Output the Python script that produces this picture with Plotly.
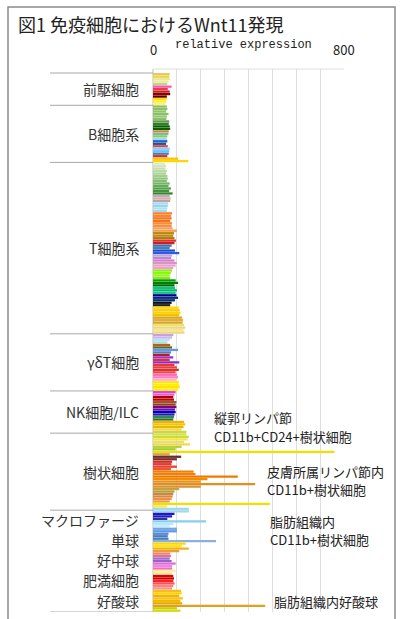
import plotly.graph_objects as go

W, H = 401, 619

# ---------------- data ----------------
progenitor_vals = [70, 68, 72, 65, 60, 78, 62, 70, 72, 58, 58, 55, 52]
progenitor_cols = ["#e6c84a", "#e8d45a", "#f0e68c", "#f2ea9a", "#b5d98a", "#ff55bb", "#e64040",
                   "#cc2020", "#8b0000", "#5c0000", "#ffe000", "#ffee33", "#fff176"]

bcell_vals = [58, 60, 55, 65, 58, 56, 68, 66, 70, 72, 66, 65, 60, 58, 60, 55, 62, 70, 68, 66, 60, 105, 148]
bcell_cols = ["#8cc068", "#8cc068", "#90c46c", "#8cc068", "#92c870", "#8cc068", "#5e9e4a", "#3c7a32",
              "#006400", "#006400", "#d98050", "#7cc080", "#88c878", "#a0d8f0", "#2060c0", "#1e4fa0",
              "#e04848", "#87cefa", "#6ec0f0", "#4080c0", "#d03030", "#ffc000", "#ffd700"]

tcell_vals = [50, 55, 52, 58, 55, 60, 62, 58, 70, 65, 75, 68, 82,
              70, 74, 72,
              64, 62, 60, 58,
              80, 76, 78, 72, 80, 78,
              82, 100, 88, 85, 90,
              96, 90,
              78, 70, 92, 110,
              80, 76, 90, 100, 95, 85,
              80, 75, 70, 72,
              95, 105, 90,
              92, 100, 95,
              98, 105, 92,
              78, 72,
              108, 112, 115, 110,
              122, 126, 124,
              130, 135, 128, 132]
tcell_cols = ["#dcecc8", "#d0e6bc", "#c4e0b0", "#b8daa4", "#acd498", "#a0ce8c", "#92c680", "#84be72",
              "#74b464", "#64aa56", "#549e4a", "#42923e", "#2e8634",
              "#c8a8a8", "#d0b0b0", "#c0a0a0",
              "#a8dcf0", "#98d4ec", "#b0e0f4", "#a0d8f0",
              "#ff7f27", "#ff8030", "#f47a20", "#f07018", "#ff8c32", "#f58a3a",
              "#f4a460", "#f0a050", "#b8860b", "#c08a10", "#b07c08",
              "#e03030", "#cc2020",
              "#3a6eb0", "#4682b4", "#1f4fd0", "#2a5ee0",
              "#c9a0dc", "#b48cd0", "#d080c8", "#e090c8", "#e8a0d0", "#f0a0c0",
              "#90ee20", "#7fff00", "#a0f020", "#88e818",
              "#00a000", "#008000", "#006400",
              "#00cc77", "#00b870", "#20c080",
              "#000090", "#0a2a80", "#003080",
              "#101010", "#202020",
              "#ffd700", "#ffcc00", "#ffd000", "#f0c000",
              "#daa520", "#e0b030", "#d8a428",
              "#f0e070", "#e8d880", "#f5e68c", "#ecd878"]

gd_vals = [85, 80, 70, 60, 72, 80, 105, 75, 70, 85, 70, 110, 90, 100, 108, 95, 100, 105, 98, 108, 110, 112, 105]
gd_cols = ["#c8a0e0", "#d0b0f0", "#b0e8f8", "#a0e0f0", "#c06000", "#556b2f", "#6495ed", "#5080c0",
           "#b02020", "#9932cc", "#e03030", "#8a2be2", "#e53935", "#e84040", "#d83030", "#f04848",
           "#ff69b4", "#ff80c0", "#ffb0d0", "#ffe600", "#ffee00", "#ffe000", "#fff000"]

nk_vals = [95, 90, 85, 88, 98, 95, 98, 92, 95, 90, 88, 85, 130, 135, 128, 120, 140]
nk_cols = ["#e040e0", "#e060d0", "#b00000", "#c00000", "#a0522d", "#8b4513", "#800080", "#6a0dad",
           "#0000cd", "#2020a0", "#2e8b57", "#307040", "#f0b400", "#f4c400", "#e8b800", "#ffd24a", "#c8dc3c"]

dc_vals = [140, 150, 145, 130, 155, 120, 95, 760, 70, 118, 100, 80, 78, 100, 75, 170, 178, 355,
           228, 200, 428, 200, 110, 90, 85, 82, 78, 70, 490, 60, 150]
dc_cols = ["#d4e04a", "#c8dc3c", "#f5e642", "#e8e070", "#f0d850", "#b8d040", "#9acd32", "#f0e000",
           "#e0a040", "#6b2c2c", "#7a3030", "#d03020", "#e53935", "#ee4030", "#f05030", "#f08000",
           "#f08010", "#f07800", "#f28c00", "#e89020", "#e09020", "#d89030", "#c8a040", "#b0a030",
           "#cd853f", "#d2884a", "#f09040", "#e8a050", "#f0e000", "#ffe840", "#a0d8f0"]

mac_vals = [150, 90, 80, 60, 222, 85, 70, 100]
mac_cols = ["#a0d8f0", "#1a1acd", "#2020c0", "#3030a0", "#87ceeb", "#b0e8ff", "#c0ecff", "#70a8e0"]

mono_vals = [100, 65, 62, 65, 264, 137, 120, 150]
mono_cols = ["#6495ed", "#5a8ad0", "#4682b4", "#4a7cc0", "#8ab0e0", "#ffd700", "#ffe600", "#f0b020"]

neut_vals = [110, 72, 75, 70, 78, 95, 80, 80]
neut_cols = ["#e8a030", "#f08080", "#e87080", "#9370db", "#a060c0", "#da70d6", "#ee82ee", "#ff69b4"]

mast_vals = [95, 80, 85, 88, 85, 90, 85, 80]
mast_cols = ["#f8f0a0", "#f0e68c", "#e00000", "#cc0000", "#ff2020", "#ff5050", "#ff8080", "#fa9090"]

eos_vals = [118, 120, 110, 125, 115, 122, 470, 100, 115]
eos_cols = ["#f0c020", "#ffd000", "#f0b400", "#ffc010", "#f5b800", "#e8a800", "#e0a020", "#c8d400", "#d4dc10"]

blocks = [
    [("前駆細胞", progenitor_vals, progenitor_cols)],
    [("B細胞系", bcell_vals, bcell_cols)],
    [("T細胞系", tcell_vals, tcell_cols)],
    [("γδT細胞", gd_vals, gd_cols)],
    [("NK細胞/ILC", nk_vals, nk_cols)],
    [("樹状細胞", dc_vals, dc_cols)],
    [("マクロファージ", mac_vals, mac_cols), ("単球", mono_vals, mono_cols),
     ("好中球", neut_vals, neut_cols), ("肥満細胞", mast_vals, mast_cols),
     ("好酸球", eos_vals, eos_cols)],
]

# callout text lines: (text, left px, center px)
callout_lines = [
    ("縦郭リンパ節", 212, 417),
    ("CD11b+CD24+樹状細胞", 212, 436),
    ("皮膚所属リンパ節内", 265, 471),
    ("CD11b+樹状細胞", 265, 489),
    ("脂肪組織内", 268, 521),
    ("CD11b+樹状細胞", 268, 539),
    ("脂肪組織内好酸球", 272, 601),
]

x_ticks = [0, 800]

# ---------------- build ----------------
def px(x):
    return x / W

def py(y):
    return 1 - y / H

FONT = "Noto Sans CJK JP"

values, colors, ys = [], [], []
label_annots = []
separators = [-0.5]
idx = 0
for block in blocks:
    for label, vals, cols in block:
        start = idx
        for v, c in zip(vals, cols):
            values.append(v)
            colors.append(c)
            ys.append(idx)
            idx += 1
        label_annots.append((label, (start + idx - 1) / 2))
    separators.append(idx - 0.5)

N = idx
fig = go.Figure()
fig.add_trace(go.Bar(x=values, y=ys, orientation="h", marker=dict(color=colors, line=dict(width=0)),
                     width=0.92, hoverinfo="x"))

top_px, bot_px = 69, 612
pitch = (bot_px - 73) / N
extra_top = (73 - top_px) / pitch

fig.update_layout(
    width=W, height=H, margin=dict(l=0, r=0, t=0, b=0),
    paper_bgcolor="white", plot_bgcolor="white", showlegend=False,
    xaxis=dict(domain=[px(153), px(344)], range=[0, 800], dtick=100, showgrid=True,
               gridcolor="#dedede", gridwidth=1, zeroline=True, zerolinecolor="#dedede",
               showticklabels=False, ticks="", showline=False, fixedrange=True),
    yaxis=dict(domain=[py(bot_px), py(top_px)], range=[N - 0.5, -0.5 - extra_top],
               showgrid=False, zeroline=False, showticklabels=False, ticks="", showline=False),
    font=dict(family=FONT, color="#222"),
)

shapes = []
# outer frame
shapes.append(dict(type="rect", xref="paper", yref="paper", x0=px(8), x1=px(395), y0=-0.02, y1=py(7),
                   line=dict(color="#8a8a8a", width=1.5), fillcolor="rgba(0,0,0,0)", layer="below"))
# top line of plot
shapes.append(dict(type="line", xref="x", yref="paper", x0=0, x1=800, y0=py(top_px), y1=py(top_px),
                   line=dict(color="#dedede", width=1)))
# group separators
for s in separators:
    shapes.append(dict(type="line", xref="paper", yref="y", x0=px(50), x1=px(153), y0=s, y1=s,
                       line=dict(color="#a8a8a8", width=1)))
fig.update_layout(shapes=shapes)

annots = []
annots.append(dict(text="図1 免疫細胞におけるWnt11発現", xref="paper", yref="paper", x=px(16), y=py(24),
                   xanchor="left", yanchor="middle", showarrow=False,
                   font=dict(size=18, family=FONT, color="#222")))
annots.append(dict(text="relative expression", xref="x", yref="paper", x=377, y=py(45),
                   xanchor="center", yanchor="middle", showarrow=False,
                   font=dict(size=12, family="Liberation Mono", color="#222")))
for t in x_ticks:
    annots.append(dict(text=str(t), xref="x", yref="paper", x=t, y=py(50), xanchor="center",
                       yanchor="middle", showarrow=False, font=dict(size=13, family=FONT, color="#222")))
for label, yc in label_annots:
    annots.append(dict(text=label, xref="paper", yref="y", x=px(141), y=yc, xanchor="right",
                       yanchor="middle", showarrow=False, font=dict(size=14, family=FONT, color="#333")))
for text, lx, ly in callout_lines:
    annots.append(dict(text=text, xref="paper", yref="paper", x=px(lx), y=py(ly), xanchor="left",
                       yanchor="middle", align="left", showarrow=False,
                       font=dict(size=13, family=FONT, color="#222")))
fig.update_layout(annotations=annots)

fig.write_html("out.html")
